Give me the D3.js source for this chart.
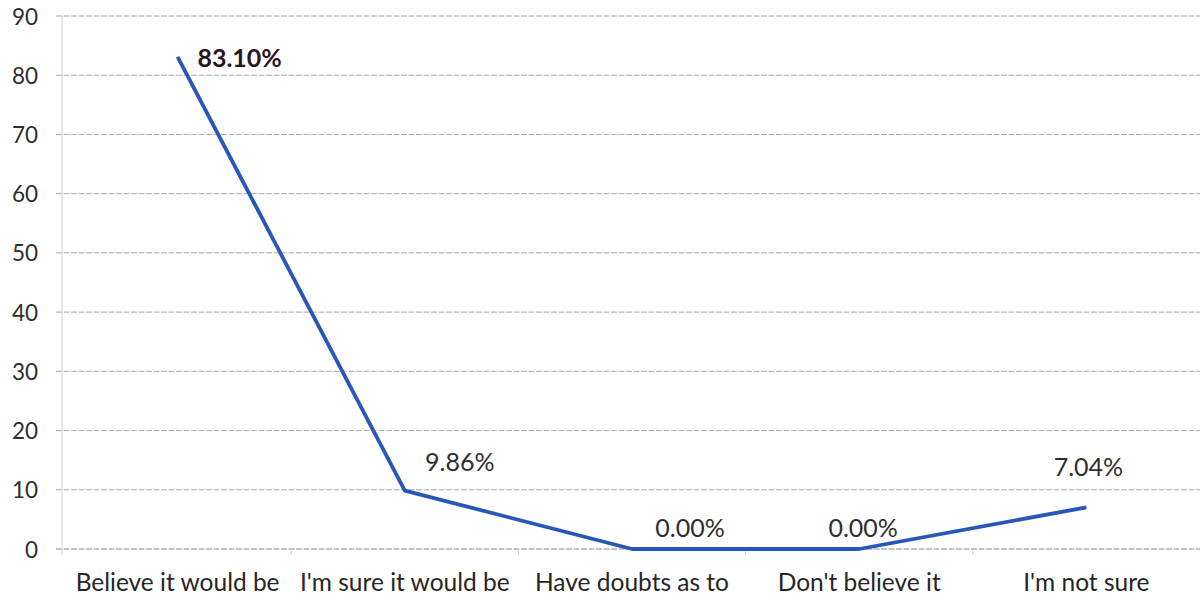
<!DOCTYPE html>
<html>
<head>
<meta charset="utf-8">
<script src="https://cdn.jsdelivr.net/npm/d3@7"></script>
<style>
  html, body { margin: 0; padding: 0; background: #ffffff; }
  svg { display: block; }
  text { font-family: Lato, "Open Sans", "DejaVu Sans", sans-serif; }
</style>
</head>
<body>
<svg id="chart" width="1203" height="603"></svg>
<script>
// Survey answers and their share of respondents (%)
const categories = ["Believe it would be", "I'm sure it would be", "Have doubts as to", "Don't believe it", "I'm not sure"];
const shares = [83.10, 9.86, 0.00, 0.00, 7.04];
const yTicks = [0, 10, 20, 30, 40, 50, 60, 70, 80, 90];

const svg = d3.select("#chart");
const plot = { left: 62, right: 1200, top: 16, bottom: 549 };

const x = d3.scaleBand().domain(categories).range([plot.left + 2, plot.right]);
const cx = c => x(c) + x.bandwidth() / 2;
const y = d3.scaleLinear().domain([0, 90]).range([plot.bottom, plot.top]);

// horizontal gridlines
svg.append("g")
  .selectAll("line")
  .data(yTicks)
  .join("line")
  .attr("x1", plot.left - 6)
  .attr("x2", plot.right)
  .attr("y1", d => y(d))
  .attr("y2", d => y(d))
  .attr("stroke", d => d === 0 ? "#8a8a8a" : "#a8a8a8")
  .attr("stroke-width", 1)
  .attr("stroke-dasharray", "6 1.5");

// vertical axis line
svg.append("line")
  .attr("x1", plot.left).attr("x2", plot.left)
  .attr("y1", plot.top).attr("y2", plot.bottom + 6)
  .attr("stroke", "#cfcfcf").attr("stroke-width", 1);

// y axis labels
const yAxis = d3.axisLeft(y).tickValues(yTicks).tickSize(0).tickPadding(0);
const gy = svg.append("g").attr("transform", `translate(${plot.left - 24},0)`).call(yAxis);
gy.select(".domain").remove();
gy.selectAll("text")
  .attr("font-size", 22.5)
  .attr("fill", "#2e2e2e")
  .attr("dy", "0.36em")
  .style("font-family", "Lato, 'Open Sans', sans-serif");

// x axis: category separators and labels
const boundaries = categories.slice(1).map(c => x(c));
svg.append("g")
  .selectAll("line")
  .data(boundaries)
  .join("line")
  .attr("x1", d => d).attr("x2", d => d)
  .attr("y1", plot.bottom).attr("y2", plot.bottom + 6)
  .attr("stroke", "#cfcfcf");

const xAxis = d3.axisBottom(x).tickSize(0).tickPadding(0);
const gx = svg.append("g").attr("transform", `translate(0,${plot.bottom})`).call(xAxis);
gx.select(".domain").remove();
gx.selectAll("text")
  .attr("font-size", 24.5)
  .attr("fill", "#262626")
  .attr("y", 42)
  .attr("dy", 0)
  .style("font-family", "Lato, 'Open Sans', sans-serif");

// the line series
const line = d3.line()
  .x((d, i) => cx(categories[i]))
  .y(d => y(d));

svg.append("path")
  .datum(shares)
  .attr("d", line)
  .attr("fill", "none")
  .attr("stroke", "#2757b8")
  .attr("stroke-width", 3.8)
  .attr("stroke-linejoin", "round");

// value labels
const labelOffsets = [[62, 10], [55, -20], [58, -12], [4, -12], [2, -31]];
svg.append("g")
  .selectAll("text")
  .data(shares)
  .join("text")
  .attr("x", (d, i) => cx(categories[i]) + labelOffsets[i][0])
  .attr("y", (d, i) => y(d) + labelOffsets[i][1])
  .attr("text-anchor", "middle")
  .attr("font-size", 25)
  .attr("font-weight", (d, i) => i === 0 ? "bold" : "normal")
  .attr("fill", (d, i) => i === 0 ? "#2a1520" : "#2e2e2e")
  .text(d => d.toFixed(2) + "%");
</script>
</body>
</html>
